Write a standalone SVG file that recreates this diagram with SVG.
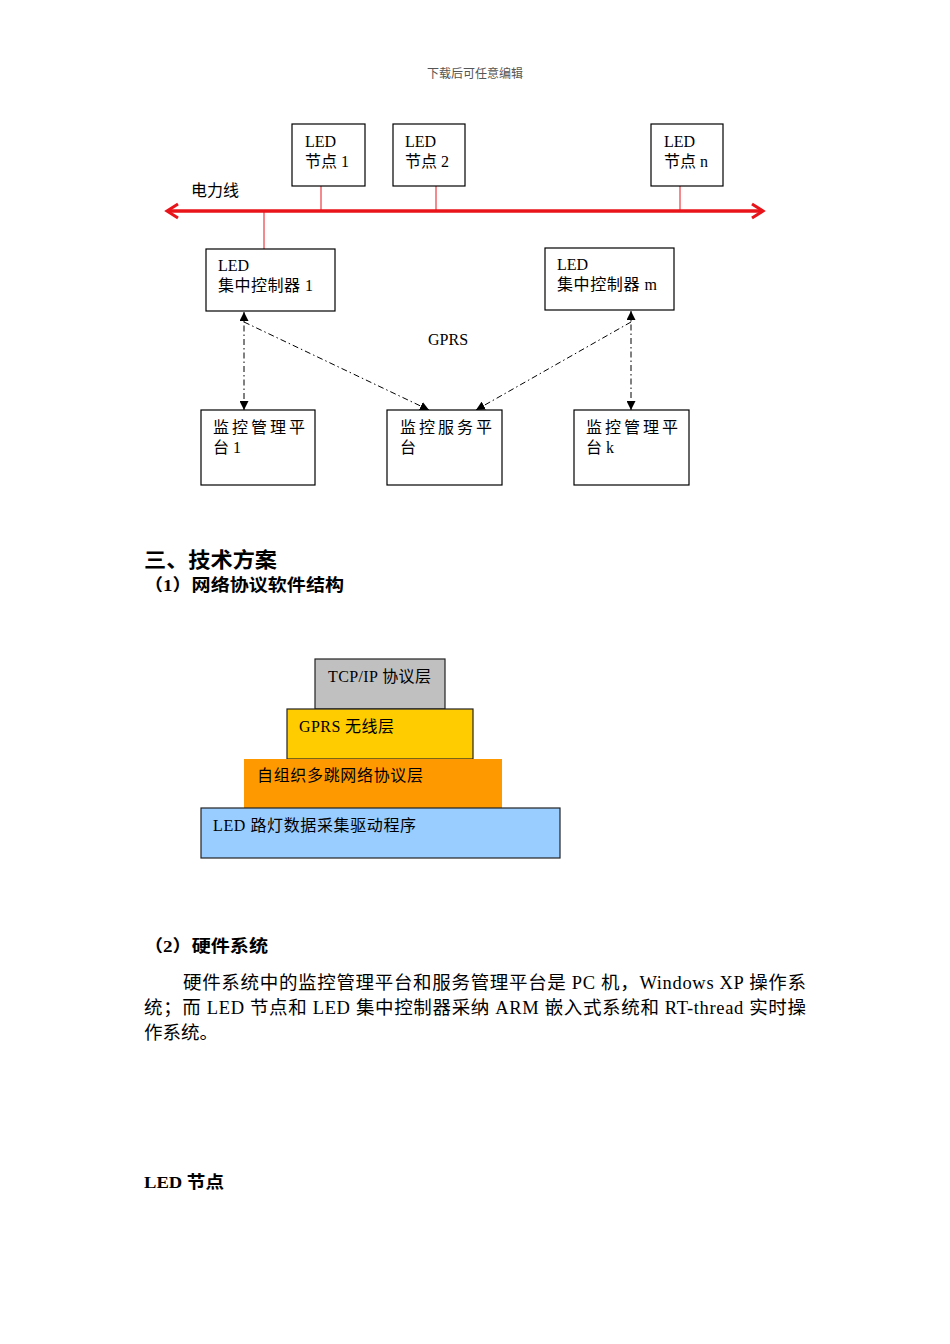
<svg xmlns="http://www.w3.org/2000/svg" width="950" height="1344" viewBox="0 0 950 1344">
<style>
.bx{fill:#fff;stroke:#000;stroke-width:1.2}
.t{font-family:"Liberation Serif","Noto Sans CJK SC",serif;font-size:16px;fill:#000}
.ts{font-family:"Liberation Serif","Noto Sans CJK SC",serif;font-size:16px;fill:#000;letter-spacing:3px}
.h{font-family:"Liberation Serif","Noto Sans CJK SC",sans-serif;font-weight:bold;fill:#000}
.p{font-family:"Liberation Serif","Noto Sans CJK SC",serif;font-size:18.5px;fill:#000}
.red{stroke:#e8141a;fill:none}
.dd{stroke:#000;stroke-width:1;stroke-dasharray:6,3,1.5,3;fill:none}
.lay{stroke:#222;stroke-width:1.2}
</style>
<defs>
<marker id="ar" viewBox="0 0 10 10" refX="10" refY="5" markerWidth="9" markerHeight="9" markerUnits="userSpaceOnUse" orient="auto-start-reverse">
<path d="M0,0 L10,5 L0,10 z" fill="#000"/>
</marker>
</defs>
<text x="475" y="78" text-anchor="middle" style="font-family:'Liberation Serif','Noto Sans CJK SC',serif;font-size:12px;fill:#555">下载后可任意编辑</text>

<g id="connectors">
<line class="red" x1="168" y1="211" x2="762" y2="211" stroke-width="3.5"/>
<polyline class="red" points="178,204 167,211 178,218" stroke-width="3"/>
<polyline class="red" points="752,204 763,211 752,218" stroke-width="3"/>
<line class="red" x1="321" y1="186" x2="321" y2="211" stroke-width="1"/>
<line class="red" x1="436" y1="186" x2="436" y2="211" stroke-width="1"/>
<line class="red" x1="680" y1="186" x2="680" y2="211" stroke-width="1"/>
<line class="red" x1="264" y1="211" x2="264" y2="249" stroke-width="1"/>
<line class="dd" x1="244" y1="312" x2="244" y2="410" marker-start="url(#ar)" marker-end="url(#ar)"/>
<line class="dd" x1="631" y1="311" x2="631" y2="410" marker-start="url(#ar)" marker-end="url(#ar)"/>
<line class="dd" x1="244" y1="322" x2="429" y2="410" marker-end="url(#ar)"/>
<line class="dd" x1="631" y1="322" x2="476" y2="410" marker-end="url(#ar)"/>
</g>
<text class="t" x="191" y="196">电力线</text>
<text class="t" x="428" y="345">GPRS</text>

<g id="node1"><rect class="bx" x="292" y="124" width="73" height="62"/><text class="t" x="305" y="147">LED</text><text class="t" x="305" y="167">节点 1</text></g>
<g id="node2"><rect class="bx" x="393" y="124" width="72" height="62"/><text class="t" x="405" y="147">LED</text><text class="t" x="405" y="167">节点 2</text></g>
<g id="noden"><rect class="bx" x="651" y="124" width="72" height="62"/><text class="t" x="664" y="147">LED</text><text class="t" x="664" y="167">节点 n</text></g>
<g id="ctrl1"><rect class="bx" x="206" y="249" width="129" height="62"/><text class="t" x="218" y="271">LED</text><text class="t" x="218" y="291" textLength="95" lengthAdjust="spacing">集中控制器 1</text></g>
<g id="ctrlm"><rect class="bx" x="545" y="248" width="129" height="62"/><text class="t" x="557" y="270">LED</text><text class="t" x="557" y="290" textLength="100" lengthAdjust="spacing">集中控制器 m</text></g>
<g id="plat1"><rect class="bx" x="201" y="410" width="114" height="75"/><text class="ts" x="213" y="433">监控管理平</text><text class="t" x="213" y="453">台 1</text></g>
<g id="serv"><rect class="bx" x="387" y="410" width="115" height="75"/><text class="ts" x="400" y="433">监控服务平</text><text class="t" x="400" y="453">台</text></g>
<g id="platk"><rect class="bx" x="574" y="410" width="115" height="75"/><text class="ts" x="586" y="433">监控管理平</text><text class="t" x="586" y="453">台 k</text></g>

<text class="h" x="144" y="567" font-size="21" textLength="133" lengthAdjust="spacingAndGlyphs">三、技术方案</text>
<text class="h" x="144" y="591" font-size="17" textLength="200" lengthAdjust="spacingAndGlyphs">（1）网络协议软件结构</text>

<g id="layer-tcp"><rect class="lay" x="315" y="659" width="130" height="50" fill="#c0c0c0"/><text class="t" x="328" y="682" textLength="103" lengthAdjust="spacing">TCP/IP 协议层</text></g>
<g id="layer-gprs"><rect class="lay" x="287" y="709" width="186" height="50" fill="#ffcc00"/><text class="t" x="299" y="732" textLength="95" lengthAdjust="spacing">GPRS 无线层</text></g>
<g id="layer-mesh"><rect x="244" y="759" width="258" height="49" fill="#ff9900"/><text class="t" x="257" y="781" textLength="166" lengthAdjust="spacing">自组织多跳网络协议层</text></g>
<g id="layer-led"><rect class="lay" x="201" y="808" width="359" height="50" fill="#99ccff"/><text class="t" x="213" y="831" textLength="203" lengthAdjust="spacing">LED 路灯数据采集驱动程序</text></g>

<text class="h" x="144" y="952" font-size="17" textLength="124" lengthAdjust="spacingAndGlyphs">（2）硬件系统</text>
<text class="p" x="183" y="989" textLength="623" lengthAdjust="spacing">硬件系统中的监控管理平台和服务管理平台是 PC 机，Windows XP 操作系</text>
<text class="p" x="144" y="1014" textLength="662" lengthAdjust="spacing">统；而 LED 节点和 LED 集中控制器采纳 ARM 嵌入式系统和 RT-thread 实时操</text>
<text class="p" x="144" y="1039">作系统。</text>
<text class="h" x="144" y="1188" font-size="17" textLength="80" lengthAdjust="spacingAndGlyphs">LED 节点</text>
</svg>
